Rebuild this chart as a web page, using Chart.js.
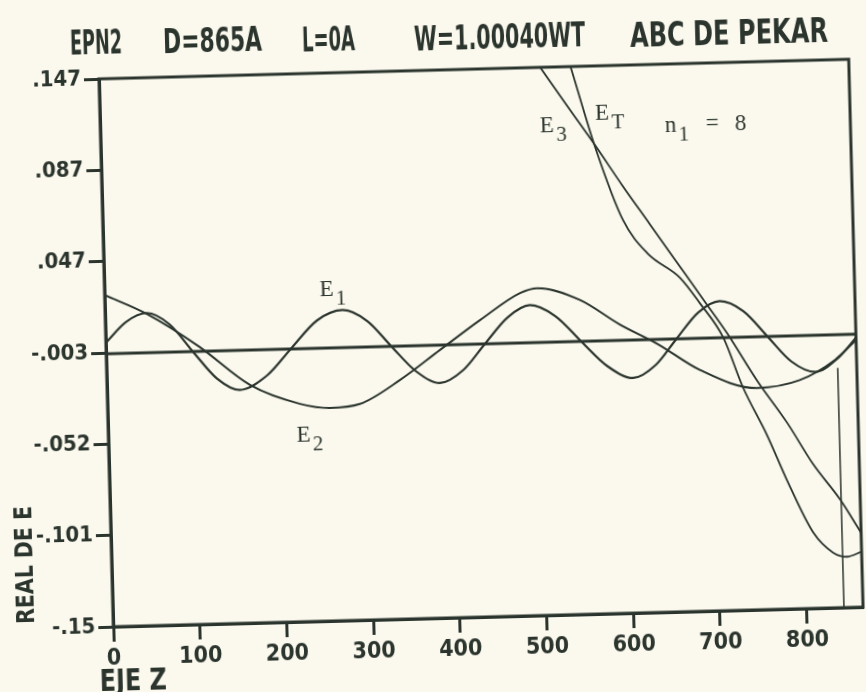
<!DOCTYPE html>
<html>
<head>
<meta charset="utf-8">
<script src="https://cdn.jsdelivr.net/npm/chart.js@4.4.1/dist/chart.umd.min.js"></script>
<style>
  html, body { margin: 0; padding: 0; background: #fbf9ee; overflow: hidden; }
  #plot { display: block; transform: rotate(-1.5deg); transform-origin: 481px 343px; }
</style>
</head>
<body>
<canvas id="plot" width="866" height="692"></canvas>
<script>
// EPN2 - real part of E along the z axis (n1 = 8)

const xTicks = [0, 100, 200, 300, 400, 500, 600, 700, 800]
const yTickLabels = ['-.15', '-.101', '-.052', '-.003', '.047', '.087', '.147']
const zMax = 865
const yMin = -0.15
const yMax = 0.147

const baseZ = [0, 865]
const baseV = [-0.002, -0.002]

const e1Z = [0, 24, 48, 74, 100, 127, 153, 185, 213, 244, 274, 302, 329, 357, 384, 411, 437, 464, 490, 519, 548, 578, 607, 633, 658, 684, 709, 736, 763, 790, 817, 843, 865]
const e1V = [0.004, 0.015, 0.0195, 0.013, -0.002, -0.017, -0.0235, -0.016, -0.002, 0.013, 0.0183, 0.012, -0.002, -0.016, -0.0226, -0.016, -0.002, 0.012, 0.0183, 0.012, -0.002, -0.016, -0.0226, -0.016, -0.002, 0.012, 0.0178, 0.012, -0.002, -0.016, -0.0219, -0.015, -0.004]

const e2Z = [0, 48, 108, 165, 222, 256, 291, 338, 385, 432, 479, 499, 548, 593, 636, 684, 749, 799, 840, 865]
const e2V = [0.0298, 0.019, 0.0003, -0.021, -0.0319, -0.0345, -0.0328, -0.0204, -0.0047, 0.0109, 0.025, 0.0274, 0.0204, 0.0066, -0.0045, -0.0192, -0.0298, -0.0261, -0.0157, -0.0052]

const e3Z = [480, 509, 540, 570, 600, 630, 660, 690, 717, 750, 783, 812, 842, 865]
const e3V = [0.168, 0.147, 0.125, 0.104, 0.082, 0.061, 0.040, 0.019, 0.0, -0.026, -0.049, -0.072, -0.0915, -0.1097]

const etZ = [525, 544, 570, 600, 627, 664, 686, 712, 733, 760, 781, 810, 832, 848, 865]
const etV = [0.178, 0.147, 0.103, 0.063, 0.0448, 0.031, 0.017, -0.002, -0.029, -0.056, -0.080, -0.109, -0.120, -0.1225, -0.120]

// stray pen stroke near the right edge
const dropZ = [843, 843]
const dropV = [-0.020, -0.152]

const curveLabels = [
    { main: 'E', sub: '1', z: 248, v: 0.0262 },
    { main: 'E', sub: '2', z: 217, v: -0.0525 },
    { main: 'E', sub: '3', z: 507, v: 0.1118 },
    { main: 'E', sub: 'T', z: 571, v: 0.1175 },
    { main: 'n', sub: '1', z: 651, v: 0.110 }
]

const ink = '#2b352e'
const plotFont = '"Liberation Sans Narrow", "DejaVu Sans Condensed", sans-serif'
const typeFont = '"Liberation Serif", "DejaVu Serif", serif'

const toPoints = (zs, vs) => zs.map((z, i) => ({ x: z, y: vs[i] }))

const curve = (label, zs, vs, width) => ({
    label,
    data: toPoints(zs, vs),
    borderColor: ink,
    borderWidth: width,
    pointRadius: 0,
    fill: false,
    cubicInterpolationMode: 'monotone'
})

const decor = {
    id: 'decor',
    afterDatasetsDraw(chart) {
        const { ctx, chartArea: a, scales: { x, y } } = chart
        ctx.save()
        ctx.strokeStyle = ink
        ctx.fillStyle = ink
        ctx.lineWidth = 3
        ctx.strokeRect(a.left, a.top, a.right - a.left, a.bottom - a.top)

        // plotter title, pen was not quite level
        ctx.font = `bold 33px ${plotFont}`
        ctx.textBaseline = 'alphabetic'
        ctx.textAlign = 'left'
        const pieces = [
            ['EPN2', 78, 44, 52], ['D=865A', 171, 45, 99], ['L=0A', 310, 47, 53],
            ['W=1.00040WT', 422, 49, 171], ['ABC DE PEKAR', 638, 51, 198]
        ]
        pieces.forEach(([t, px, py, w]) => ctx.fillText(t, px, py, w))

        // axis titles
        ctx.font = `bold 30px ${plotFont}`
        ctx.fillText('EJE Z', 91, 681, 67)
        ctx.save()
        ctx.translate(27, 612)
        ctx.rotate(-Math.PI / 2)
        ctx.font = `bold 25px ${plotFont}`
        const yw = ctx.measureText('REAL DE E').width
        ctx.scale(118 / yw, 1)
        ctx.fillText('REAL DE E', 0, 0)
        ctx.restore()

        // typed curve labels
        curveLabels.forEach(l => {
            const px = x.getPixelForValue(l.z)
            const py = y.getPixelForValue(l.v)
            ctx.font = `23px ${typeFont}`
            ctx.fillText(l.main, px, py)
            const w = ctx.measureText(l.main).width
            ctx.font = `21px ${typeFont}`
            ctx.fillText(l.sub, px + w + 2, py + 9)
        })
        const n = curveLabels[4]
        const nx = x.getPixelForValue(n.z)
        const ny = y.getPixelForValue(n.v)
        ctx.font = `23px ${typeFont}`
        ctx.fillText('=', nx + 41, ny - 1)
        ctx.fillText('8', nx + 70, ny)
        ctx.restore()
    }
}

new Chart(document.getElementById('plot').getContext('2d'), {
    type: 'line',
    data: {
        datasets: [
            curve('base', baseZ, baseV, 3),
            curve('E1', e1Z, e1V, 2.2),
            curve('E2', e2Z, e2V, 2),
            curve('E3', e3Z, e3V, 1.8),
            curve('ET', etZ, etV, 1.8),
            { ...curve('drop', dropZ, dropV, 1.5), cubicInterpolationMode: 'default', tension: 0 }
        ]
    },
    options: {
        responsive: false,
        animation: false,
        layout: { padding: { top: 69, right: 10, left: 0, bottom: 0 } },
        plugins: { legend: { display: false }, tooltip: { enabled: false } },
        scales: {
            x: {
                type: 'linear',
                min: 0,
                max: zMax,
                afterFit: s => { s.height = 75 },
                afterBuildTicks: s => { s.ticks = xTicks.map(v => ({ value: v })) },
                grid: { drawOnChartArea: false, tickLength: 15, tickWidth: 3, color: ink },
                border: { color: ink, width: 3 },
                ticks: {
                    color: ink,
                    padding: 3,
                    maxRotation: 0,
                    font: { family: plotFont, size: 23, weight: 'bold' }
                }
            },
            y: {
                type: 'linear',
                min: yMin,
                max: yMax,
                afterFit: s => { s.width = 106 },
                afterBuildTicks: s => {
                    s.ticks = yTickLabels.map((_, i) => ({ value: yMin + i * (yMax - yMin) / (yTickLabels.length - 1) }))
                },
                grid: { drawOnChartArea: false, tickLength: 15, tickWidth: 3, color: ink },
                border: { color: ink, width: 3 },
                ticks: {
                    color: ink,
                    padding: 3,
                    font: { family: plotFont, size: 22, weight: 'bold' },
                    callback: (v, i) => yTickLabels[i]
                }
            }
        }
    },
    plugins: [decor]
})
</script>
</body>
</html>
